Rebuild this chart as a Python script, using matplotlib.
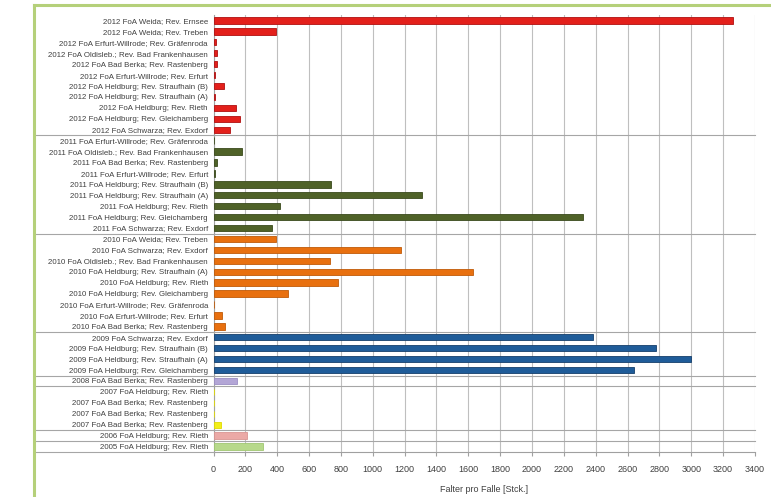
import matplotlib
matplotlib.use("Agg")
import matplotlib.pyplot as plt
from matplotlib.lines import Line2D
import matplotlib.transforms as mtransforms

plt.rcParams['font.family'] = ['Liberation Sans', 'DejaVu Sans']

labels = [
    "2012 FoA Weida; Rev. Ernsee",
    "2012 FoA Weida; Rev. Treben",
    "2012 FoA Erfurt-Willrode; Rev. Gräfenroda",
    "2012 FoA Oldisleb.; Rev. Bad Frankenhausen",
    "2012 FoA Bad Berka; Rev. Rastenberg",
    "2012 FoA Erfurt-Willrode; Rev. Erfurt",
    "2012 FoA Heldburg; Rev. Straufhain (B)",
    "2012 FoA Heldburg; Rev. Straufhain (A)",
    "2012 FoA Heldburg; Rev. Rieth",
    "2012 FoA Heldburg; Rev. Gleichamberg",
    "2012 FoA Schwarza; Rev. Exdorf",
    "2011 FoA Erfurt-Willrode; Rev. Gräfenroda",
    "2011 FoA Oldisleb.; Rev. Bad Frankenhausen",
    "2011 FoA Bad Berka; Rev. Rastenberg",
    "2011 FoA Erfurt-Willrode; Rev. Erfurt",
    "2011 FoA Heldburg; Rev. Straufhain (B)",
    "2011 FoA Heldburg; Rev. Straufhain (A)",
    "2011 FoA Heldburg; Rev. Rieth",
    "2011 FoA Heldburg; Rev. Gleichamberg",
    "2011 FoA Schwarza; Rev. Exdorf",
    "2010 FoA Weida; Rev. Treben",
    "2010 FoA Schwarza; Rev. Exdorf",
    "2010 FoA Oldisleb.; Rev. Bad Frankenhausen",
    "2010 FoA Heldburg; Rev. Straufhain (A)",
    "2010 FoA Heldburg; Rev. Rieth",
    "2010 FoA Heldburg; Rev. Gleichamberg",
    "2010 FoA Erfurt-Willrode; Rev. Gräfenroda",
    "2010 FoA Erfurt-Willrode; Rev. Erfurt",
    "2010 FoA Bad Berka; Rev. Rastenberg",
    "2009 FoA Schwarza; Rev. Exdorf",
    "2009 FoA Heldburg; Rev. Straufhain (B)",
    "2009 FoA Heldburg; Rev. Straufhain (A)",
    "2009 FoA Heldburg; Rev. Gleichamberg",
    "2008 FoA Bad Berka; Rev. Rastenberg",
    "2007 FoA Heldburg; Rev. Rieth",
    "2007 FoA Bad Berka; Rev. Rastenberg",
    "2007 FoA Bad Berka; Rev. Rastenberg",
    "2007 FoA Bad Berka; Rev. Rastenberg",
    "2006 FoA Heldburg; Rev. Rieth",
    "2005 FoA Heldburg; Rev. Rieth",
]

values = [
    3260, 390, 16, 25, 25, 11, 64, 11, 140, 165, 105,
    5, 180, 20, 10, 740, 1310, 420, 2320, 370,
    390, 1180, 730, 1630, 780, 470, 0, 55, 70,
    2380, 2780, 3000, 2640,
    145,
    0, 5, 5, 50,
    210,
    310,
]

years = [lab[:4] for lab in labels]

year_colors = {
    "2012": ("#E3201B", "#B01010"),
    "2011": ("#4F6228", "#3A4A1C"),
    "2010": ("#E8700F", "#C05A08"),
    "2009": ("#1F5C99", "#153F6B"),
    "2008": ("#B3A6D6", "#9C8FC4"),
    "2007": ("#F2EE1A", "#E0DA00"),
    "2006": ("#EBA9A6", "#D99592"),
    "2005": ("#B7D98B", "#A0C772"),
}

x_ticks = list(range(0, 3401, 200))
x_label = "Falter pro Falle [Stck.]"

fig = plt.figure(figsize=(7.71, 4.97), dpi=100)
ax = fig.add_axes([213.5 / 771, 1 - 452 / 497, (755 - 213.5) / 771, (452 - 15) / 497])

ypos = list(range(len(labels)))
fc = [year_colors[y][0] for y in years]
ec = [year_colors[y][1] for y in years]
ax.barh(ypos, values, height=0.58, color=fc, edgecolor=ec, linewidth=0.6, zorder=3)

ax.set_xlim(0, 3400)
ax.set_ylim(len(labels) - 0.5, -0.5)
ax.set_xticks(x_ticks)
ax.set_xticklabels([str(t) for t in x_ticks], fontsize=6.5, color="#404040")
ax.set_yticks(ypos)
ax.set_yticklabels(labels, fontsize=5.7, color="#404040")
ax.tick_params(axis='y', length=0, pad=4)
ax.tick_params(axis='x', length=3, color="#A0A0A0", pad=6)
ax.set_xlabel(x_label, fontsize=6.5, color="#404040", labelpad=8)

ax.grid(axis='x', color="#BFBFBF", linewidth=0.8, zorder=0)
ax.set_axisbelow(True)
for s in ["top", "right"]:
    ax.spines[s].set_visible(False)
ax.spines["left"].set_color("#A0A0A0")
ax.spines["bottom"].set_color("#A0A0A0")
ax.spines["left"].set_linewidth(0.8)
ax.spines["bottom"].set_linewidth(0.8)

# group separators extending into the label area
trans = mtransforms.blended_transform_factory(fig.transFigure, ax.transData)
x0 = 35 / 771
x1 = 755 / 771
for i in range(1, len(labels)):
    if years[i] != years[i - 1]:
        b = i - 0.5
        fig.add_artist(Line2D([x0, x1], [b, b], transform=trans, color="#A6A6A6", linewidth=0.8))
b = len(labels) - 0.5
fig.add_artist(Line2D([x0, 213.5 / 771], [b, b], transform=trans, color="#A6A6A6", linewidth=0.8))

# green frame
green = "#B5D07A"
fig.add_artist(Line2D([33.5 / 771, 33.5 / 771], [0, 1 - 5 / 497], transform=fig.transFigure, color=green, linewidth=2.2))
fig.add_artist(Line2D([33.5 / 771, 1], [1 - 5 / 497, 1 - 5 / 497], transform=fig.transFigure, color=green, linewidth=2.2))

fig.savefig("out.png", dpi=100)
